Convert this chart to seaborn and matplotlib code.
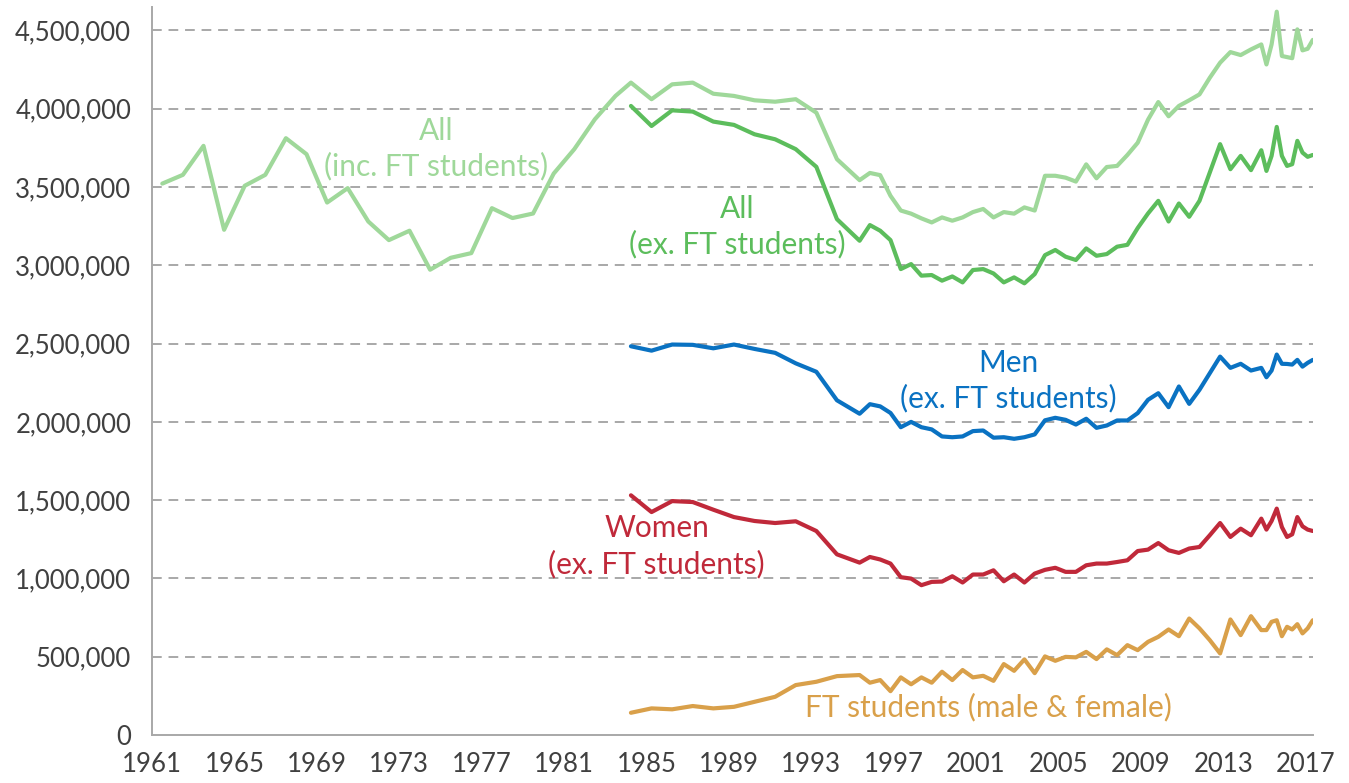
import numpy as np
import pandas as pd
import matplotlib
matplotlib.use("Agg")
import matplotlib.pyplot as plt
import seaborn as sns

# ---------------- data (millions) ----------------
early_years = [1961.5, 1962.5, 1963.5, 1964.5, 1965.5, 1966.5, 1967.5, 1968.5, 1969.5,
               1970.5, 1971.5, 1972.5, 1973.5, 1974.5, 1975.5, 1976.5, 1977.5, 1978.5,
               1979.5, 1980.5, 1981.5, 1982.5, 1983.5]
all_inc_early = [3.522, 3.578, 3.763, 3.227, 3.508, 3.578, 3.812, 3.710, 3.401,
                 3.493, 3.280, 3.161, 3.221, 2.972, 3.048, 3.078, 3.365, 3.302,
                 3.331, 3.586, 3.742, 3.933, 4.082]

periods = [1984.25, 1985.25, 1986.25, 1987.25, 1988.25, 1989.25, 1990.25, 1991.25,
           1992.25, 1993.25, 1994.25,
           1995.35, 1995.85, 1996.35, 1996.85, 1997.35, 1997.85, 1998.35, 1998.85,
           1999.35, 1999.85, 2000.35, 2000.85, 2001.35, 2001.85, 2002.35, 2002.85,
           2003.35, 2003.85, 2004.35, 2004.85, 2005.35, 2005.85, 2006.35, 2006.85,
           2007.35, 2007.85, 2008.35, 2008.85, 2009.35, 2009.85, 2010.35, 2010.85,
           2011.35, 2011.85, 2012.35, 2012.85, 2013.35, 2013.85, 2014.35, 2014.85,
           2015.1, 2015.35, 2015.6, 2015.85, 2016.1, 2016.35, 2016.6, 2016.85,
           2017.1, 2017.35]

all_inc = [4.167, 4.061, 4.156, 4.167, 4.096, 4.082, 4.054, 4.045, 4.061, 3.975, 3.678,
           3.544, 3.590, 3.576, 3.444, 3.350, 3.330, 3.300, 3.274, 3.306, 3.285,
           3.306, 3.340, 3.360, 3.306, 3.340, 3.330, 3.370, 3.350, 3.572, 3.572,
           3.560, 3.535, 3.645, 3.556, 3.628, 3.635, 3.705, 3.783, 3.930, 4.043,
           3.952, 4.018, 4.054, 4.092, 4.198, 4.294, 4.362, 4.343, 4.379, 4.411,
           4.283, 4.411, 4.620, 4.337, 4.330, 4.323, 4.507, 4.373, 4.383, 4.440]

all_ex = [4.018, 3.890, 3.990, 3.982, 3.918, 3.897, 3.837, 3.805, 3.742, 3.629, 3.295,
          3.157, 3.257, 3.221, 3.161, 2.976, 3.008, 2.934, 2.938, 2.902, 2.929,
          2.891, 2.970, 2.976, 2.948, 2.891, 2.923, 2.885, 2.944, 3.065, 3.098,
          3.055, 3.034, 3.108, 3.061, 3.072, 3.119, 3.131, 3.238, 3.331, 3.412,
          3.280, 3.395, 3.310, 3.412, 3.593, 3.774, 3.614, 3.699, 3.608, 3.735,
          3.603, 3.699, 3.884, 3.699, 3.635, 3.646, 3.795, 3.720, 3.693, 3.705]

men_ex = [2.483, 2.455, 2.494, 2.492, 2.470, 2.494, 2.466, 2.441, 2.374, 2.320, 2.138,
          2.052, 2.113, 2.099, 2.057, 1.966, 2.000, 1.966, 1.952, 1.907, 1.902,
          1.907, 1.941, 1.945, 1.899, 1.902, 1.892, 1.902, 1.920, 2.010, 2.026,
          2.013, 1.983, 2.020, 1.962, 1.977, 2.009, 2.009, 2.056, 2.141, 2.183,
          2.094, 2.226, 2.115, 2.205, 2.311, 2.417, 2.345, 2.371, 2.328, 2.345,
          2.285, 2.328, 2.430, 2.371, 2.370, 2.366, 2.396, 2.353, 2.377, 2.396]

women_ex = [1.531, 1.424, 1.494, 1.488, 1.439, 1.392, 1.367, 1.354, 1.365, 1.303, 1.154,
            1.101, 1.137, 1.121, 1.095, 1.008, 0.999, 0.957, 0.978, 0.980, 1.014,
            0.974, 1.025, 1.025, 1.052, 0.982, 1.025, 0.974, 1.031, 1.055, 1.068,
            1.042, 1.042, 1.084, 1.095, 1.095, 1.105, 1.116, 1.175, 1.184, 1.226,
            1.180, 1.163, 1.191, 1.201, 1.276, 1.354, 1.265, 1.318, 1.276, 1.382,
            1.312, 1.367, 1.446, 1.328, 1.265, 1.282, 1.392, 1.333, 1.312, 1.303]

ft_students = [0.142, 0.170, 0.164, 0.185, 0.170, 0.180, 0.212, 0.244, 0.319, 0.340, 0.376,
               0.383, 0.334, 0.351, 0.280, 0.368, 0.324, 0.368, 0.334, 0.404, 0.351,
               0.415, 0.368, 0.378, 0.346, 0.453, 0.410, 0.483, 0.395, 0.502, 0.474,
               0.499, 0.496, 0.531, 0.485, 0.547, 0.510, 0.574, 0.542, 0.595, 0.627,
               0.674, 0.631, 0.744, 0.681, 0.606, 0.521, 0.738, 0.638, 0.759, 0.670,
               0.670, 0.723, 0.733, 0.631, 0.691, 0.674, 0.708, 0.649, 0.681, 0.733]

x_ticks = [1961, 1965, 1969, 1973, 1977, 1981, 1985, 1989, 1993, 1997, 2001, 2005, 2009, 2013, 2017]
y_ticks = [0, 500000, 1000000, 1500000, 2000000, 2500000, 3000000, 3500000, 4000000, 4500000]

labels = ["All\n(inc. FT students)", "All\n(ex. FT students)", "Men\n(ex. FT students)",
          "Women\n(ex. FT students)", "FT students (male & female)"]

# ---------------- style ----------------
sns.set_style("white")
plt.rcParams["font.family"] = ["Lato", "DejaVu Sans"]

C_LIGHT = "#9fd89a"
C_DARK = "#5cbd5c"
C_BLUE = "#0a72c2"
C_RED = "#c0293a"
C_ORANGE = "#d9a04a"
C_GRID = "#a8a8a8"
C_TEXT = "#404040"

fig = plt.figure(figsize=(13.49, 7.83), dpi=100)
ax = fig.add_axes([152 / 1349, 1 - 735 / 783, (1313 - 152) / 1349, (735 - 7) / 783])

M = 1_000_000
inc_x = early_years + periods
inc_y = [v * M for v in all_inc_early + all_inc]

lw = 3.0
sns.lineplot(x=inc_x, y=inc_y, ax=ax, color=C_LIGHT, lw=lw)
sns.lineplot(x=periods, y=[v * M for v in all_ex], ax=ax, color=C_DARK, lw=lw)
sns.lineplot(x=periods, y=[v * M for v in men_ex], ax=ax, color=C_BLUE, lw=lw)
sns.lineplot(x=periods, y=[v * M for v in women_ex], ax=ax, color=C_RED, lw=lw)
sns.lineplot(x=periods, y=[v * M for v in ft_students], ax=ax, color=C_ORANGE, lw=lw)

ax.set_xlim(1961, 2017.36)
ax.set_ylim(0, 4650000)
ax.set_xticks(x_ticks)
ax.set_xticklabels([str(t) for t in x_ticks])
ax.set_yticks(y_ticks)
ax.set_yticklabels([f"{v:,}" for v in y_ticks])
ax.set_xlabel("")
ax.set_ylabel("")

for y in y_ticks[1:]:
    ax.axhline(y, color=C_GRID, lw=1.4, dashes=(5, 3.5), zorder=0)

for s in ["top", "right"]:
    ax.spines[s].set_visible(False)
for s in ["left", "bottom"]:
    ax.spines[s].set_color(C_GRID)
    ax.spines[s].set_linewidth(1.4)

ax.tick_params(axis="both", which="major", labelsize=18.5, colors=C_TEXT,
               length=7, width=1.2, color=C_GRID, direction="out")
ax.tick_params(axis="x", pad=5)
ax.tick_params(axis="y", pad=8)

fs = 21.5
ls = 1.3
ax.text(1974.8, 3744000, labels[0], color=C_LIGHT, fontsize=fs, ha="center", va="center", linespacing=ls)
ax.text(1989.4, 3246000, labels[1], color=C_DARK, fontsize=fs, ha="center", va="center", linespacing=ls)
ax.text(2002.55, 2264000, labels[2], color=C_BLUE, fontsize=fs, ha="center", va="center", linespacing=ls)
ax.text(1985.5, 1205000, labels[3], color=C_RED, fontsize=fs, ha="center", va="center", linespacing=ls)
ax.text(2001.6, 179000, labels[4], color=C_ORANGE, fontsize=fs, ha="center", va="center", linespacing=ls)

fig.savefig("out.png", dpi=100)
